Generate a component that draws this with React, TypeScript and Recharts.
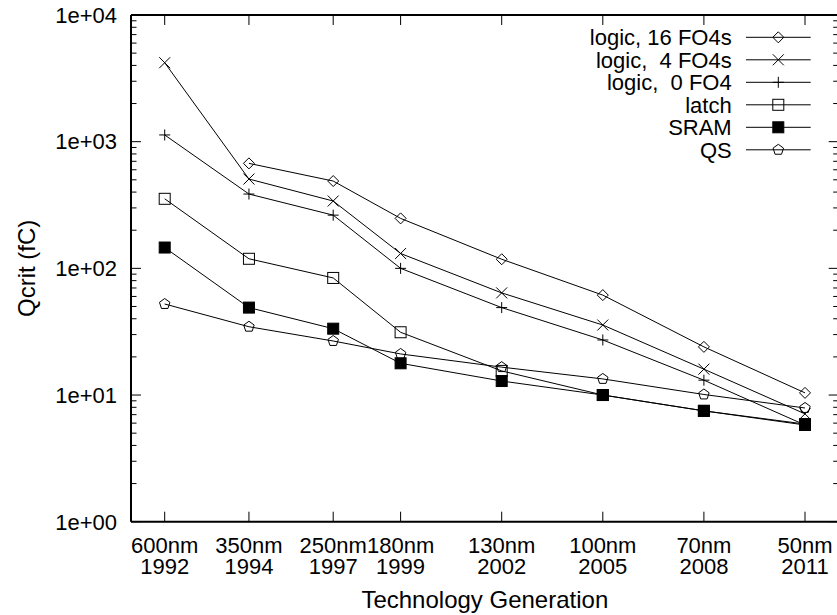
import { LineChart, Line, XAxis, YAxis, Label } from 'recharts';

const FONT = '"Liberation Sans", Arial, Helvetica, sans-serif';

// technology generations
const nodes = ['600nm', '350nm', '250nm', '180nm', '130nm', '100nm', '70nm', '50nm'];
const years = ['1992', '1994', '1997', '1999', '2002', '2005', '2008', '2011'];
const xPos = [1992, 1994.5, 1997, 1999, 2002, 2005, 2008, 2011];

// Qcrit (fC) per series
const logic16 = [null, 674, 489, 248, 118, 61.5, 24, 10.4];
const logic4 = [4200, 507, 340, 131, 64, 35.7, 16, 7.1];
const logic0 = [1130, 386, 263, 100, 49, 27.2, 13.1, 5.8];
const latch = [354, 119, 84, 31.3, 15.5, 10, 7.5, 5.8];
const sram = [146, 49, 33.4, 17.8, 12.9, 10, 7.5, 5.9];
const qs = [52.3, 34.6, 26.7, 21.1, 16.6, 13.4, 10.1, 7.9];

const yMajor = [1, 10, 100, 1000, 10000];
const yMinorSteps = [2, 3, 4, 5, 6, 7, 8, 9];
const yTicks = [...yMajor, ...yMajor.slice(0, -1).flatMap((d) => yMinorSteps.map((m) => m * d))].sort((a, b) => a - b);

const series = [
  { key: 'l16', name: 'logic, 16 FO4s', values: logic16, shape: 'diamond' },
  { key: 'l4', name: 'logic,  4 FO4s', values: logic4, shape: 'cross' },
  { key: 'l0', name: 'logic,  0 FO4', values: logic0, shape: 'plus' },
  { key: 'latch', name: 'latch', values: latch, shape: 'square' },
  { key: 'sram', name: 'SRAM', values: sram, shape: 'fsquare' },
  { key: 'qs', name: 'QS', values: qs, shape: 'pentagon' },
];

const data = xPos.map((x, i) => {
  const row: Record<string, number | null> = { x };
  series.forEach((s) => (row[s.key] = s.values[i]));
  return row;
});

function Marker({ shape, cx, cy }: { shape: string; cx: number; cy: number }) {
  const r = 5.5;
  switch (shape) {
    case 'diamond':
      return <path d={`M${cx},${cy - r}L${cx + r},${cy}L${cx},${cy + r}L${cx - r},${cy}Z`} fill="none" stroke="#000" />;
    case 'cross':
      return <path d={`M${cx - r},${cy - r}L${cx + r},${cy + r}M${cx + r},${cy - r}L${cx - r},${cy + r}`} stroke="#000" />;
    case 'plus':
      return <path d={`M${cx - r},${cy}L${cx + r},${cy}M${cx},${cy - r}L${cx},${cy + r}`} stroke="#000" />;
    case 'square':
      return <rect x={cx - r} y={cy - r} width={2 * r} height={2 * r} fill="none" stroke="#000" />;
    case 'fsquare':
      return <rect x={cx - r} y={cy - r} width={2 * r} height={2 * r} fill="#000" stroke="#000" />;
    default: {
      const pts = [0, 1, 2, 3, 4]
        .map((k) => {
          const a = (-90 + 72 * k) * (Math.PI / 180);
          return `${cx + r * Math.cos(a)},${cy + r * Math.sin(a)}`;
        })
        .join(' ');
      return <polygon points={pts} fill="none" stroke="#000" />;
    }
  }
}

const fmtExp = (v: number) => `1e+${String(Math.round(Math.log10(v))).padStart(2, '0')}`;

function LeftTick({ x, y, payload }: any) {
  const major = yMajor.includes(payload.value);
  return (
    <g>
      <line x1={x} x2={x + (major ? 10 : 5.5)} y1={y} y2={y} stroke="#000" />
      {major && (
        <text x={x - 14} y={y + 7.8} textAnchor="end" fontSize={22} fontFamily={FONT} fill="#000">
          {fmtExp(payload.value)}
        </text>
      )}
    </g>
  );
}

function RightTick({ x, y, payload }: any) {
  const major = yMajor.includes(payload.value);
  return <line x1={x} x2={x - (major ? 10 : 5.5)} y1={y} y2={y} stroke="#000" />;
}

function BottomTick({ x, y, payload }: any) {
  const i = xPos.indexOf(payload.value);
  return (
    <g>
      <line x1={x} x2={x} y1={y} y2={y - 10} stroke="#000" />
      <text x={x} y={y + 31} textAnchor="middle" fontSize={22} fontFamily={FONT} fill="#000">
        {nodes[i]}
      </text>
      <text x={x} y={y + 52.5} textAnchor="middle" fontSize={22} fontFamily={FONT} fill="#000">
        {years[i]}
      </text>
    </g>
  );
}

function TopTick({ x, y }: any) {
  return <line x1={x} x2={x} y1={y} y2={y + 10} stroke="#000" />;
}

function XTitle({ viewBox }: any) {
  return (
    <text x={viewBox.x + viewBox.width / 2} y={viewBox.y + 86.6} textAnchor="middle" fontSize={24} fontFamily={FONT} fill="#000">
      Technology Generation
    </text>
  );
}

function YTitle({ viewBox }: any) {
  const cy = viewBox.y + viewBox.height / 2;
  return (
    <text x={35} y={cy} transform={`rotate(-90, 35, ${cy})`} textAnchor="middle" fontSize={24} fontFamily={FONT} fill="#000">
      Qcrit (fC)
    </text>
  );
}

function KeyBox() {
  return (
    <g>
      {series.map((s, i) => {
        const cy = 37.3 + 22.5 * i;
        return (
          <g key={s.key}>
            <text x={731.7} y={cy + 7.8} textAnchor="end" fontSize={22} fontFamily={FONT} fill="#000" style={{ whiteSpace: 'pre' }}>
              {s.name}
            </text>
            <line x1={746} x2={810.7} y1={cy} y2={cy} stroke="#000" />
            <Marker shape={s.shape} cx={778.3} cy={cy} />
          </g>
        );
      })}
    </g>
  );
}

const axisLine = { stroke: '#000', strokeWidth: 2 };

export default function App() {
  return (
    <div style={{ position: 'absolute', left: 0, top: 0, width: 837, height: 615, overflow: 'hidden', background: '#fff' }}>
      <LineChart width={848} height={615} data={data} margin={{ top: 8, right: 0, bottom: 0, left: 0 }}>
        <XAxis
          dataKey="x"
          type="number"
          domain={[1991, 2012]}
          allowDataOverflow
          ticks={xPos}
          interval={0}
          height={93.3}
          tickSize={0}
          tickMargin={0}
          tickLine={false}
          axisLine={axisLine}
          tick={<BottomTick />}
        >
          <Label content={<XTitle />} />
        </XAxis>
        <XAxis
          xAxisId="top"
          orientation="top"
          dataKey="x"
          type="number"
          domain={[1991, 2012]}
          allowDataOverflow
          ticks={xPos}
          interval={0}
          height={7}
          tickSize={0}
          tickMargin={0}
          tickLine={false}
          axisLine={axisLine}
          tick={<TopTick />}
        />
        <YAxis
          type="number"
          scale="log"
          domain={[1, 10000]}
          allowDataOverflow
          ticks={yTicks}
          interval={0}
          width={131}
          tickSize={0}
          tickMargin={0}
          tickLine={false}
          axisLine={axisLine}
          tick={<LeftTick />}
        >
          <Label content={<YTitle />} />
        </YAxis>
        <YAxis
          yAxisId="right"
          orientation="right"
          type="number"
          scale="log"
          domain={[1, 10000]}
          allowDataOverflow
          ticks={yTicks}
          interval={0}
          width={9.3}
          tickSize={0}
          tickMargin={0}
          tickLine={false}
          axisLine={axisLine}
          tick={<RightTick />}
        />
        {series.map((s) => (
          <Line
            key={s.key}
            dataKey={s.key}
            name={s.name}
            type="linear"
            stroke="#000"
            strokeWidth={1}
            isAnimationActive={false}
            dot={(p: any) =>
              p.cx == null || p.cy == null || p.value == null ? (
                <g key={`${s.key}-${p.index}`} />
              ) : (
                <Marker key={`${s.key}-${p.index}`} shape={s.shape} cx={p.cx} cy={p.cy} />
              )
            }
            activeDot={false}
          />
        ))}
        <KeyBox />
      </LineChart>
    </div>
  );
}
